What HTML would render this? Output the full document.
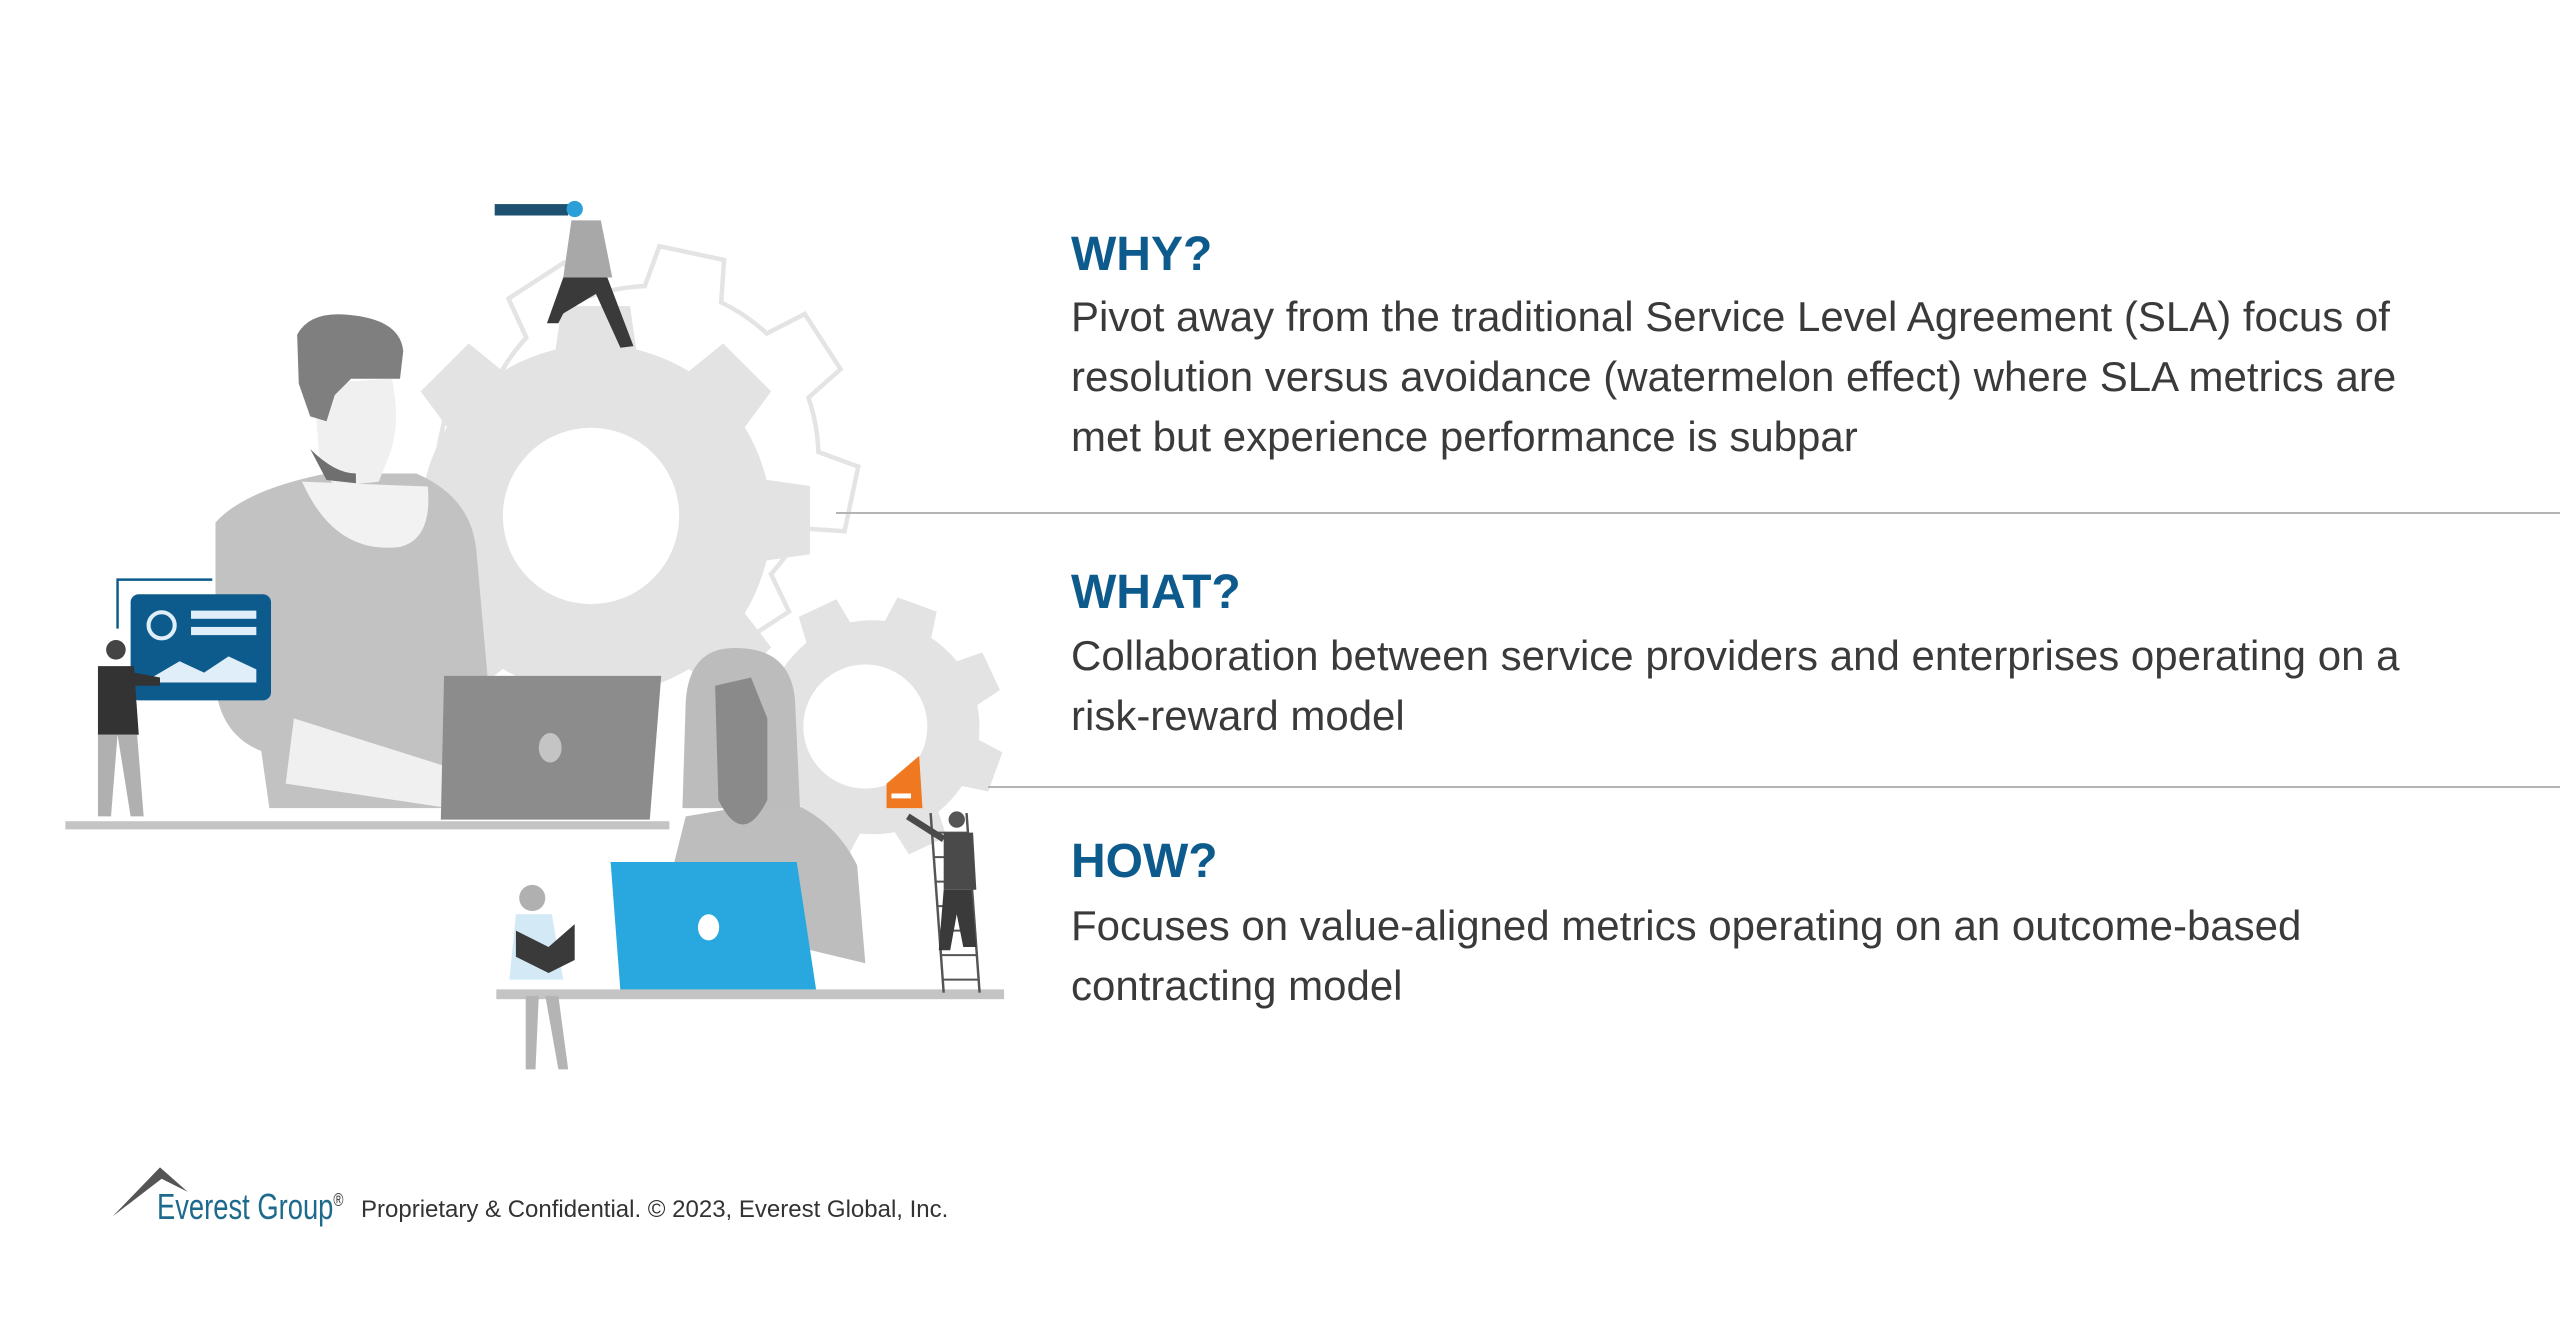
<!DOCTYPE html>
<html><head><meta charset="utf-8"><style>
html,body{margin:0;padding:0;background:#fff;}
body{width:2560px;height:1340px;position:relative;overflow:hidden;font-family:"Liberation Sans",Arial,sans-serif;}
.h{position:absolute;left:1071px;font-weight:bold;font-size:48px;color:#0d5b8c;line-height:1;}
.t{position:absolute;left:1071px;font-size:42px;color:#3a3a3a;line-height:60px;white-space:nowrap;}
.ln{position:absolute;height:2px;background:#b4b4b4;right:0;}
</style></head><body>
<svg style="position:absolute;left:0;top:0" width="2560" height="1340" viewBox="0 0 1568 820.75">
<defs>
<g id="gearBig">
<path d="M-22,-150 L22,-150 L26,-122 A125,125 0 0 1 60,-108 L82,-126 L113,-95 L96,-72 A125,125 0 0 1 110,-38 L138,-34 L138,10 L110,14 A125,125 0 0 1 96,48 L113,70 L82,101 L60,84 A125,125 0 0 1 26,98 L22,126 L-22,126 L-26,98 A125,125 0 0 1 -60,84 L-82,101 L-113,70 L-96,48 A125,125 0 0 1 -110,14 L-138,10 L-138,-34 L-110,-38 A125,125 0 0 1 -96,-72 L-113,-95 L-82,-126 L-60,-108 A125,125 0 0 1 -26,-122 Z"/>
</g>
</defs>
<!-- outline gear -->
<g transform="translate(395,290) rotate(12)" fill="none" stroke="#e4e4e4" stroke-width="3"><use href="#gearBig" transform="scale(0.92)"/></g>
<!-- big filled gear -->
<g transform="translate(365,330)" fill="#e3e3e3"><use href="#gearBig" transform="scale(0.95)"/></g>
<circle cx="362" cy="316" r="54" fill="#fff"/>
<!-- small gear -->
<g transform="translate(532,452) rotate(20)" fill="#e3e3e3"><use href="#gearBig" transform="scale(0.58)"/></g>
<circle cx="530" cy="445" r="38" fill="#fff"/>
<!-- man -->
<path d="M132,320 Q150,300 200,290 L255,290 Q290,305 292,340 L300,430 L300,495 L165,495 L160,460 Q135,450 132,420 Z" fill="#c2c2c2"/>
<path d="M192,235 L240,232 Q246,260 238,280 L232,295 L205,298 L196,285 Z" fill="#f0f0f0"/>
<path d="M182,205 Q190,190 215,193 Q245,196 247,215 L245,232 L215,232 L205,242 L200,258 L190,255 L183,235 Z" fill="#7f7f7f"/>
<path d="M190,275 Q205,290 218,290 L218,296 L200,294 Z" fill="#6f6f6f"/>
<path d="M185,295 Q205,340 245,335 Q265,330 262,298 Z" fill="#f2f2f2"/>
<path d="M180,440 L275,470 L275,495 L175,480 Z" fill="#f0f0f0"/>
<path d="M272,414 L405,414 L398,502 L270,502 Z" fill="#8c8c8c"/>
<ellipse cx="337" cy="458" rx="7" ry="9" fill="#c4c4c4"/>
<rect x="40" y="503" width="370" height="5" fill="#c4c4c4"/>
<!-- blue card -->
<path d="M72,385 L72,355 L130,355" fill="none" stroke="#0d5b8c" stroke-width="1.5"/>
<rect x="80" y="364" width="86" height="65" rx="5" fill="#0d5b8c"/>
<circle cx="99" cy="383" r="8" fill="none" stroke="#dfeef8" stroke-width="2.5"/>
<rect x="117" y="374" width="40" height="5" fill="#dfeef8"/>
<rect x="117" y="384" width="40" height="5" fill="#dfeef8"/>
<path d="M93,415 L110,405 L125,412 L140,402 L157,410 L157,418 L93,418 Z" fill="#dfeef8"/>
<!-- small man -->
<circle cx="71" cy="398" r="6" fill="#444"/>
<path d="M60,408 L82,408 L85,450 L60,450 Z" fill="#333"/>
<path d="M82,412 L98,415 L98,420 L82,420 Z" fill="#333"/>
<path d="M60,450 L72,450 L68,500 L60,500 Z M72,450 L84,450 L88,500 L80,500 Z" fill="#b0b0b0"/>
<!-- telescope man -->
<rect x="303" y="125" width="45" height="7" fill="#1e5070"/>
<circle cx="352" cy="128" r="5" fill="#2a9fd8"/>
<path d="M350,135 L368,135 L375,170 L345,170 Z" fill="#a8a8a8"/>
<path d="M345,170 L372,170 L388,212 L380,213 L365,180 L345,192 L342,198 L335,198 Z" fill="#3a3a3a"/>
<!-- woman -->
<path d="M420,500 Q410,540 405,560 L530,590 L525,530 Q510,500 480,490 Z" fill="#bdbdbd"/>
<path d="M420,430 Q422,395 453,397 Q485,398 487,430 L490,495 L418,495 Z" fill="#bcbcbc"/>
<path d="M438,420 L460,415 L470,440 L470,490 Q455,520 440,490 Z" fill="#8a8a8a"/>
<path d="M374,528 L488,528 L500,607 L380,607 Z" fill="#29a8e0"/>
<ellipse cx="434" cy="568" rx="6.5" ry="8" fill="#fff"/>
<rect x="304" y="606" width="311" height="6" fill="#c4c4c4"/>
<!-- girl reading -->
<circle cx="326" cy="550" r="8" fill="#b0b0b0"/>
<path d="M316,560 L338,560 L345,600 L312,600 Z" fill="#d4e9f6"/>
<path d="M316,570 L336,580 L352,566 L352,588 L336,596 L316,586 Z" fill="#3a3a3a"/>
<path d="M322,610 L330,610 L328,655 L322,655 Z M334,610 L342,610 L348,655 L342,655 Z" fill="#b4b4b4"/>
<!-- flag + ladder man -->
<path d="M543,480 L563,463 L565,495 L543,495 Z" fill="#f07820"/>
<rect x="546" y="486" width="12" height="3" fill="#fff"/>
<path d="M570,498 L578,608 M592,498 L600,608" stroke="#555" stroke-width="1.5"/>
<g stroke="#555" stroke-width="1.2"><path d="M571,510 H593 M572,525 H594 M573,540 H595 M574,555 H596 M575,570 H597 M576,585 H598 M577,600 H599"/></g>
<circle cx="586" cy="502" r="5" fill="#555"/>
<path d="M578,510 L596,510 L598,545 L578,545 Z" fill="#4a4a4a"/>
<path d="M578,545 L595,545 L598,580 L590,580 L586,560 L582,582 L575,582 Z" fill="#3a3a3a"/>
<path d="M578,514 L556,500" stroke="#4a4a4a" stroke-width="4"/>
<!-- logo -->
<path d="M69,745 L98,715 L115,730 L99,722 Z" fill="#555"/>
</svg>
<div class="ln" style="left:836px;top:512px;"></div>
<div class="ln" style="left:988px;top:786px;"></div>
<div class="h" style="top:231px;">WHY?</div>
<div class="t" style="top:287px;">Pivot away from the traditional Service Level Agreement (SLA) focus of<br>resolution versus avoidance (watermelon effect) where SLA metrics are<br>met but experience performance is subpar</div>
<div class="h" style="top:569px;">WHAT?</div>
<div class="t" style="top:626px;">Collaboration between service providers and enterprises operating on a<br>risk-reward model</div>
<div class="h" style="top:838px;">HOW?</div>
<div class="t" style="top:896px;">Focuses on value-aligned metrics operating on an outcome-based<br>contracting model</div>
<div style="position:absolute;left:157px;top:1186px;font-size:36px;color:#1d6a8c;white-space:nowrap;transform:scaleX(0.76);transform-origin:0 0;">Everest Group<sup style="font-size:18px;color:#333">®</sup></div>
<div style="position:absolute;left:361px;top:1196px;font-size:24px;color:#333;white-space:nowrap;">Proprietary &amp; Confidential. © 2023, Everest Global, Inc.</div>
</body></html>
